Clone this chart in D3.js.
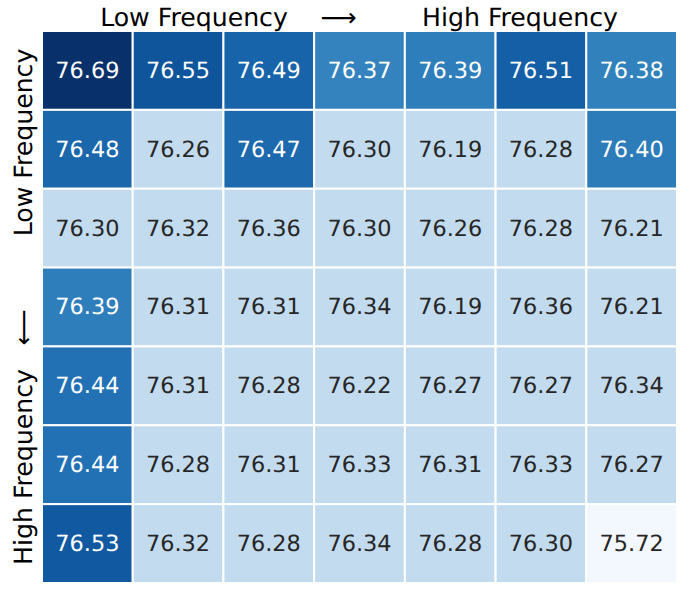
<!DOCTYPE html>
<html>
<head>
<meta charset="utf-8">
<script src="https://cdn.jsdelivr.net/npm/d3@7"></script>
<style>
  html, body { margin: 0; padding: 0; background: #fff; }
  svg { display: block; }
  text { font-family: "DejaVu Sans", sans-serif; text-rendering: geometricPrecision; }
</style>
</head>
<body>
<svg id="chart" width="693" height="598"></svg>
<script>
const rows = ["r0", "r1", "r2", "r3", "r4", "r5", "r6"];
const cols = ["c0", "c1", "c2", "c3", "c4", "c5", "c6"];
const row0 = [76.69, 76.55, 76.49, 76.37, 76.39, 76.51, 76.38];
const row1 = [76.48, 76.26, 76.47, 76.30, 76.19, 76.28, 76.40];
const row2 = [76.30, 76.32, 76.36, 76.30, 76.26, 76.28, 76.21];
const row3 = [76.39, 76.31, 76.31, 76.34, 76.19, 76.36, 76.21];
const row4 = [76.44, 76.31, 76.28, 76.22, 76.27, 76.27, 76.34];
const row5 = [76.44, 76.28, 76.31, 76.33, 76.31, 76.33, 76.27];
const row6 = [76.53, 76.32, 76.28, 76.34, 76.28, 76.30, 75.72];
const values = [row0, row1, row2, row3, row4, row5, row6];
const topLabels = ["Low Frequency", "\u27F6", "High Frequency"];
const sideLabels = ["High Frequency", "\u27F5", "Low Frequency"];

const cells = [];
values.forEach((r, i) => r.forEach((v, j) => cells.push({ row: rows[i], col: cols[j], v })));

const svg = d3.select("#chart");
const x0 = 42, x1 = 677, y0 = 31, y1 = 583;

const x = d3.scaleBand().domain(cols).range([x0, x1]);
const y = d3.scaleBand().domain(rows).range([y0, y1]);

// colour: values above 76.365 follow a continuous Blues ramp, the rest are flat light tones
const tHigh = d3.scaleLinear().domain([76.37, 76.69]).range([0.68, 1.0]).clamp(true);
const band = d3.scaleThreshold().domain([76.0, 76.365]).range(["min", "mid", "high"]);
function tOf(v) {
  const b = band(v);
  if (b === "high") return tHigh(v);
  if (b === "mid") return 0.25;
  return 0.02;
}
const color = v => d3.interpolateBlues(tOf(v));

const g = svg.append("g");
g.selectAll("rect").data(cells).join("rect")
  .attr("x", d => x(d.col))
  .attr("y", d => y(d.row))
  .attr("width", x.bandwidth())
  .attr("height", y.bandwidth())
  .attr("fill", d => color(d.v))
  .attr("stroke", "#fff")
  .attr("stroke-width", 2);

g.selectAll("text").data(cells).join("text")
  .attr("x", d => x(d.col) + x.bandwidth() / 2)
  .attr("y", d => y(d.row) + y.bandwidth() / 2)
  .attr("dy", "0.33em")
  .attr("text-anchor", "middle")
  .attr("font-size", 22.4)
  .attr("fill", d => tOf(d.v) > 0.5 ? "#ffffff" : "#262626")
  .text(d => d.v.toFixed(2));

// top title pieces
const topPos = [194, 338.5, 520];
svg.selectAll("text.top").data(topLabels).join("text")
  .attr("class", "top")
  .attr("x", (d, i) => topPos[i])
  .attr("y", 25.5)
  .attr("text-anchor", "middle")
  .attr("font-size", 25.2)
  .attr("fill", "#000")
  .text(d => d);

// side title pieces (rotated)
const sidePos = [467, 327.5, 142.5];
svg.selectAll("text.side").data(sideLabels).join("text")
  .attr("class", "side")
  .attr("transform", (d, i) => `translate(31.5,${sidePos[i]}) rotate(-90)`)
  .attr("text-anchor", "middle")
  .attr("font-size", 25.2)
  .attr("fill", "#000")
  .text(d => d);
</script>
</body>
</html>
